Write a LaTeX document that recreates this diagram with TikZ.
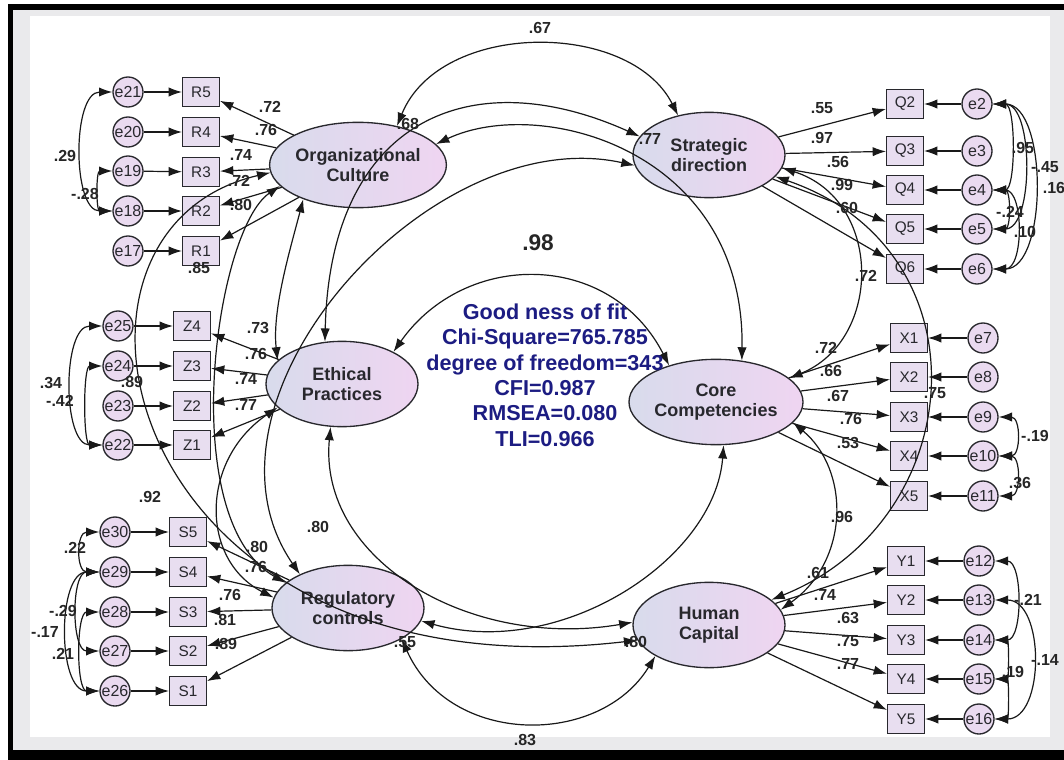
\documentclass[tikz,border=0pt]{standalone}
\usepackage{fontspec}
\setmainfont{Liberation Sans}
\usetikzlibrary{shapes.geometric,arrows.meta}

\definecolor{latL}{RGB}{216,219,236}
\definecolor{latR}{RGB}{239,213,241}
\definecolor{boxFill}{RGB}{232,222,240}
\definecolor{errFill}{RGB}{234,218,240}
\definecolor{fitBlue}{RGB}{28,28,130}
\definecolor{bandGray}{RGB}{234,234,236}
\definecolor{inkGray}{RGB}{40,40,45}

\begin{document}
\begin{tikzpicture}
[x=0.75pt,y=-0.75pt,
  latentDecorate/.style={shape=ellipse,draw=inkGray,line width=1pt,left color=latL,right color=latR,minimum width=114pt,minimum height=64pt,inner sep=0pt,align=center,font=\fontsize{13.5}{15}\selectfont\bfseries,text=inkGray},
  boxDecorate/.style={shape=rectangle,draw=inkGray,line width=1pt,fill=boxFill,minimum width=27.5pt,minimum height=21.5pt,inner sep=0pt,font=\fontsize{11.5}{12}\selectfont,text=inkGray},
  errorDecorate/.style={shape=circle,draw=inkGray,line width=1pt,fill=errFill,minimum size=22.5pt,inner sep=0pt,font=\fontsize{12}{12}\selectfont,text=inkGray},
  lineDecorate/.style={-{Latex[length=10pt,width=7pt]},line width=0.9pt,draw=black!90},
  corrDecorate/.style={{Latex[length=10pt,width=7pt]}-{Latex[length=10pt,width=7pt]},line width=0.9pt,draw=black!90},
  labelDecorate/.style={inner sep=0pt,font=\fontsize{12}{12}\selectfont\bfseries,text=black!85},
  fitDecorate/.style={align=center,inner sep=0pt,font=\fontsize{16.2}{19}\selectfont\bfseries,text=fitBlue}]
\useasboundingbox (0,0) rectangle (1064,760);
%% window frame
\fill[white] (0,0) rectangle (1064,760);
\fill[bandGray] (13,10) rectangle (1064,750);
\fill[white] (30,16) rectangle (1050,737);
\fill[black] (8,4) rectangle (1064,10);
\fill[black] (8,4) rectangle (13,760);
\fill[black] (8,750) rectangle (1064,760);
%% latent variables
\foreach \nodename/\x/\y/\txt in {OC/358/165/{Organizational\\Culture}, SD/709/155/{Strategic\\direction},
  EP/342/384/{Ethical\\Practices}, CC/716/402/{Core\\Competencies},
  RC/348/608/{Regulatory\\controls}, HC/709/625/{Human\\Capital}}
{
  \node (\nodename) at (\x,\y) [latentDecorate] {\txt};
}
%% observed variables
\foreach \nodename/\x/\y in {R5/201/92, R4/201/132, R3/201/172, R2/201/211, R1/201/251,
  Z4/192/326, Z3/192/366, Z2/192/406, Z1/192/445,
  S5/188/532, S4/188/572, S3/188/612, S2/188/651, S1/188/691,
  Q2/905/104, Q3/905/151, Q4/905/190, Q5/905/229, Q6/905/269,
  X1/909/338, X2/909/377, X3/909/417, X4/909/456, X5/909/496,
  Y1/906/561, Y2/906/600, Y3/906/640, Y4/906/679, Y5/906/719}
{
  \node (\nodename) at (\x,\y) [boxDecorate] {\nodename};
}
%% error terms
\foreach \nodename/\x/\y in {e21/128/92, e20/128/132, e19/128/171, e18/128/211, e17/128/251,
  e25/118/326, e24/118/366, e23/118/406, e22/118/445,
  e30/115/532, e29/115/572, e28/115/612, e27/115/651, e26/115/691,
  e2/977/104, e3/977/151, e4/977/190, e5/977/229, e6/977/269,
  e7/983/338, e8/983/377, e9/983/417, e10/983/456, e11/983/496,
  e12/979/561, e13/979/600, e14/979/640, e15/979/679, e16/979/719}
{
  \node (\nodename) at (\x,\y) [errorDecorate] {\nodename};
}
%% loadings and error paths
\path
\foreach \startnode/\endnode in {OC/R5, OC/R4, OC/R3, OC/R2, OC/R1,
  EP/Z4, EP/Z3, EP/Z2, EP/Z1, RC/S5, RC/S4, RC/S3, RC/S2, RC/S1,
  SD/Q2, SD/Q3, SD/Q4, SD/Q5, SD/Q6, CC/X1, CC/X2, CC/X3, CC/X4, CC/X5,
  HC/Y1, HC/Y2, HC/Y3, HC/Y4, HC/Y5,
  e21/R5, e20/R4, e19/R3, e18/R2, e17/R1, e25/Z4, e24/Z3, e23/Z2, e22/Z1,
  e30/S5, e29/S4, e28/S3, e27/S2, e26/S1, e2/Q2, e3/Q3, e4/Q4, e5/Q5, e6/Q6,
  e7/X1, e8/X2, e9/X3, e10/X4, e11/X5, e12/Y1, e13/Y2, e14/Y3, e15/Y4, e16/Y5}
{
  (\startnode) edge[lineDecorate] (\endnode)
};
%% error covariances
\foreach \startnode/\endnode/\ya/\yb/\bx in {e21/e18/92/211/72, e19/e18/171/211/96,
  e25/e22/326/445/62, e24/e22/366/445/83,
  e30/e29/532/572/76, e29/e27/572/651/71, e29/e26/572/691/57, e28/e26/612/691/76,
  e2/e4/104/190/1016, e2/e5/104/229/1034, e2/e6/104/269/1048, e4/e5/190/229/1011, e4/e6/190/269/1024,
  e9/e10/417/456/1021, e10/e11/456/496/1021,
  e12/e14/561/640/1023, e13/e16/600/719/1045, e14/e15/640/679/1009, e15/e16/679/719/1009}
{
  \draw[corrDecorate] (\startnode) .. controls (\bx,\ya) and (\bx,\yb) .. (\endnode);
}
%% latent covariances
\foreach \startnode/\ax/\ay/\bx/\by/\endnode in {OC.45/440/20/630/20/SD.128,
  EP.112/330/120/470/60/SD.165, OC.15/540/95/745/150/CC.58,
  EP.32/465/250/610/250/CC.142, OC.212/290/250/272/310/EP.160,
  OC.195/215/230/175/520/RC.158, OC.185/20/230/120/700/HC.192,
  SD.188/430/120/180/400/RC.145, EP.200/200/460/200/560/RC.172,
  EP.255/318/560/470/650/HC.178, CC.280/715/560/560/660/RC.350,
  SD.350/883/200/883/340/CC.18, SD.342/990/250/970/520/HC.22,
  CC.345/850/470/850/560/HC.12, RC.330/450/747/600/747/HC.210}
{
  \draw[corrDecorate] (\startnode) .. controls (\ax,\ay) and (\bx,\by) .. (\endnode);
}
%% estimates
\foreach \txt/\x/\y [count=\i] in {.72/270/107, .76/266/130, .74/241/155, .72/239/181, .80/241/205,
  .85/199/268, .29/65/156, -.28/85/194,
  .73/258/328, .76/256/354, .74/246/379, .77/246/405, .89/132/382, .34/51/383, -.42/60/401,
  .92/150/497, .80/257/547, .76/256/567, .76/230/595, .81/225/620, .89/226/644, .80/318/527,
  .22/75/548, -.29/63/611, -.17/45/632, .21/63/654,
  .67/540/28, .68/408/124, .77/650/139,
  .55/822/108, .97/822/138, .56/838/162, .99/842/185, .60/847/208, .72/866/276,
  .95/1023/148, -.45/1045/167, .16/1054/188, -.24/1010/212, .10/1025/232,
  .72/826/348, .66/831/371, .67/838/396, .76/851/419, .53/848/443, .75/935/393,
  -.19/1035/436, .36/1020/483, .96/842/517,
  .61/818/573, .74/825/595, .63/848/618, .75/848/641, .77/848/664,
  -.21/1028/600, -.14/1045/660, .19/1013/672,
  .55/405/642, .80/636/642, .83/525/740}
{
  \node (lab\i) at (\x,\y) [labelDecorate] {\txt};
}
\node (rsq) at (538,243) [labelDecorate,font=\fontsize{17}{17}\selectfont\bfseries] {.98};
\node (fit) at (545,375) [fitDecorate] {Good ness of fit\\Chi-Square=765.785\\degree of freedom=343\\CFI=0.987\\RMSEA=0.080\\TLI=0.966};
\end{tikzpicture}
\end{document}
